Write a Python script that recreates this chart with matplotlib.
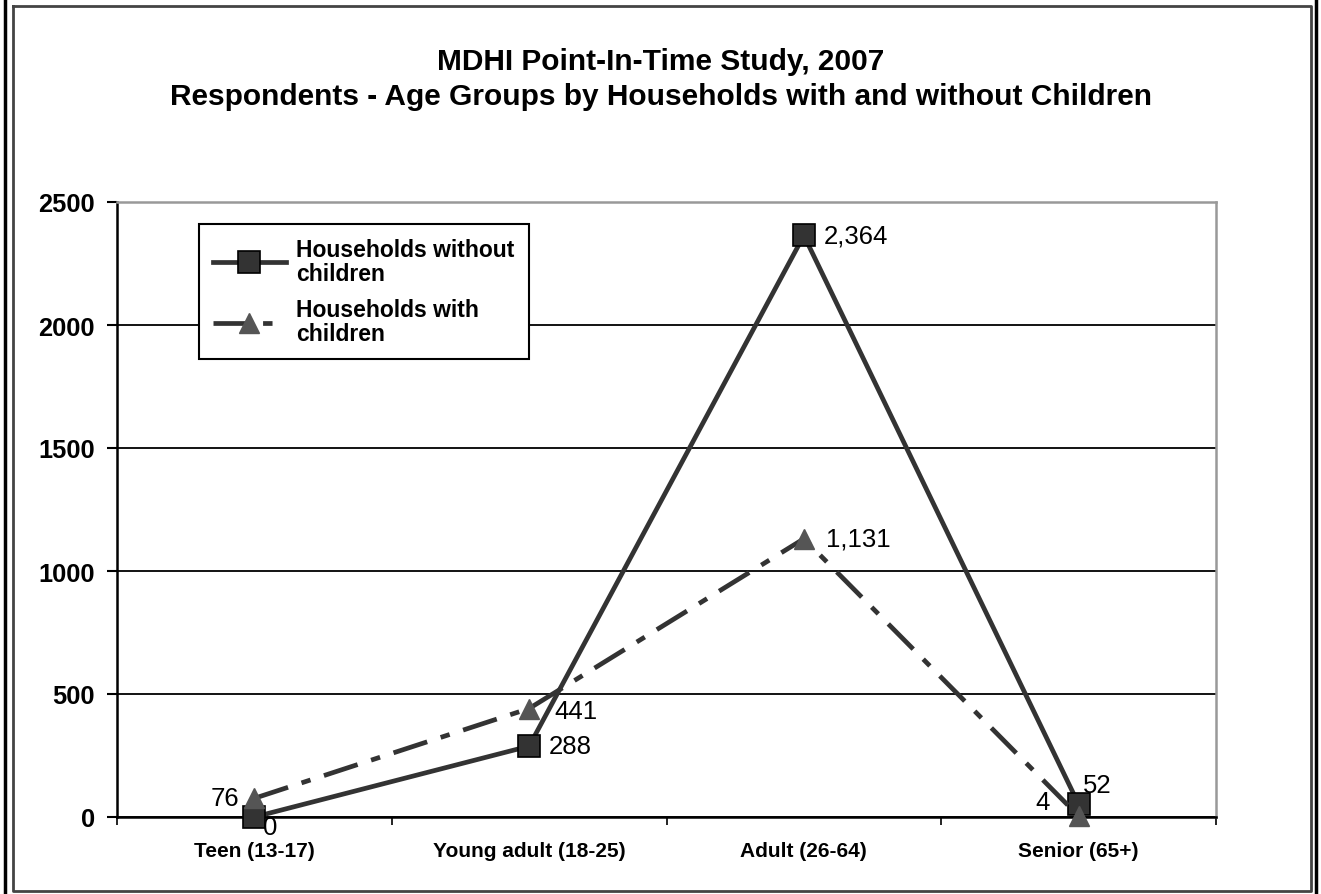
import matplotlib.pyplot as plt
from matplotlib.lines import Line2D

plt.rcParams['font.family'] = ['Liberation Sans', 'DejaVu Sans']

categories = ['Teen (13-17)', 'Young adult (18-25)', 'Adult (26-64)', 'Senior (65+)']
without_children = [0, 288, 2364, 52]
with_children = [76, 441, 1131, 4]
without_labels = ['0', '288', '2,364', '52']
with_labels = ['76', '441', '1,131', '4']

W, H = 1321, 895
fig = plt.figure(figsize=(W / 100, H / 100), dpi=100)
ax = fig.add_axes([117 / W, 1 - 818 / H, (1216 - 117) / W, (818 - 203) / H])

x = list(range(len(categories)))

ax.plot(x, without_children, color='#333333', lw=3.4, marker='s', ms=16,
        mfc='#333333', mec='black', mew=1.2, label='Households without\nchildren',
        zorder=3, clip_on=False)
line2, = ax.plot(x, with_children, color='#333333', lw=3.4, marker='^', ms=15,
                 mfc='#555555', mec='#555555', label='Households with\nchildren',
                 zorder=4, clip_on=False)
line2.set_dashes((7.5, 3, 2, 3))

# data labels
off_wo = [(6.5, -7, 'left'), (14, 0, 'left'), (14, 0, 'left'), (3, 14, 'left')]
off_w = [(-11, 0, 'right'), (18, -2, 'left'), (16, 0, 'left'), (-21, 10, 'right')]
for i in x:
    dx, dy, ha = off_wo[i]
    ax.annotate(without_labels[i], (i, without_children[i]), xytext=(dx, dy),
                textcoords='offset points', ha=ha, va='center', fontsize=18.5, zorder=5)
    dx, dy, ha = off_w[i]
    ax.annotate(with_labels[i], (i, with_children[i]), xytext=(dx, dy),
                textcoords='offset points', ha=ha, va='center', fontsize=18.5, zorder=5)

ax.set_xlim(-0.5, 3.5)
ax.set_ylim(0, 2500)
ax.set_yticks([0, 500, 1000, 1500, 2000, 2500])
ax.set_xticks(x)
ax.set_xticklabels(categories, fontsize=15, fontweight='bold')
ax.set_xticks([-0.5, 0.5, 1.5, 2.5, 3.5], minor=True)
ax.tick_params(axis='x', which='major', length=0, pad=17)
ax.tick_params(axis='x', which='minor', length=6, width=1.2, direction='out', color='black')
ax.tick_params(axis='y', length=7, width=1.5, direction='out', pad=9, labelsize=18.3)
for lbl in ax.get_yticklabels():
    lbl.set_fontweight('bold')

ax.yaxis.grid(True, color='black', lw=1.3)
ax.set_axisbelow(True)
for s in ['left', 'bottom']:
    ax.spines[s].set_color('black')
    ax.spines[s].set_linewidth(1.8)
for s in ['top', 'right']:
    ax.spines[s].set_color('#999999')
    ax.spines[s].set_linewidth(1.8)

leg = ax.legend(loc='upper left', bbox_to_anchor=(199 / W, 1 - 225 / H),
                bbox_transform=fig.transFigure, fancybox=False, framealpha=1,
                edgecolor='black', prop={'weight': 'bold', 'size': 16.5},
                handlelength=3.2, borderpad=0.6, labelspacing=0.6, handletextpad=0.45,
                borderaxespad=0)
leg.get_frame().set_linewidth(1.5)
for t in leg.get_texts():
    t.set_linespacing(1.05)

fig.text(0.5, 1 - 62 / H, 'MDHI Point-In-Time Study, 2007', ha='center', va='center',
         fontsize=21.5, fontweight='bold')
fig.text(0.5, 1 - 97 / H, 'Respondents - Age Groups by Households with and without Children',
         ha='center', va='center', fontsize=21.5, fontweight='bold')

# outer frames
def frame_line(xs, ys, color, lw):
    fig.add_artist(Line2D([v / W for v in xs], [1 - v / H for v in ys],
                          transform=fig.transFigure, color=color, lw=lw))

frame_line([13, 1311, 1311, 13, 13], [7, 7, 892, 892, 7], '#444444', 2)
frame_line([5, 5], [0, H], 'black', 2.5)
frame_line([1316, 1316], [0, H], 'black', 2.5)

fig.savefig('out.png', dpi=100)
